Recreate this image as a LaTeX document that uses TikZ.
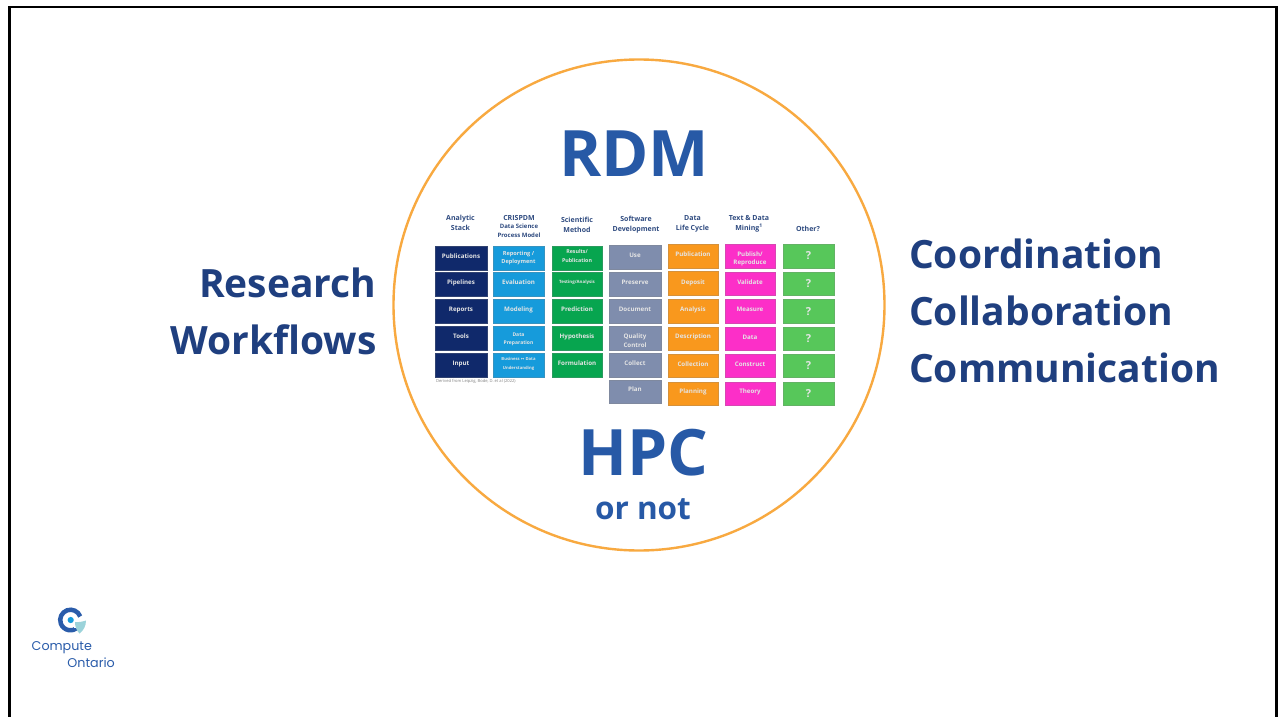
\documentclass[tikz,border=0pt]{standalone}
\usepackage{fontspec}
\setmainfont{Open Sans}
\newfontfamily\logofont{Poppins}
\definecolor{navyc}{HTML}{10296B}
\definecolor{bluec}{HTML}{169BDB}
\definecolor{greenc}{HTML}{07A54F}
\definecolor{grayc}{HTML}{7F8DAD}
\definecolor{orangec}{HTML}{F9981D}
\definecolor{magc}{HTML}{FC2FC8}
\definecolor{lgreenc}{HTML}{57C75A}
\definecolor{headc}{HTML}{2F4B80}
\definecolor{titlec}{HTML}{2759A6}
\definecolor{sidec}{HTML}{1F3F7F}
\definecolor{ringc}{HTML}{F8A940}
\definecolor{logoc}{HTML}{2A5CAA}
\definecolor{shieldc}{HTML}{9BD3DA}
\tikzset{
 x=1pt,y=-1pt,
 cell/.style={rectangle,inner sep=0pt,outer sep=0pt},
 celltext/.style={inner sep=0pt,align=center,text=white!90!black},
 head/.style={align=center,font=\bfseries\fontsize{7}{10.2}\selectfont,text=headc},
 bigt/.style={font=\bfseries\fontsize{64}{64}\selectfont,text=titlec},
 side/.style={font=\bfseries\fontsize{39}{57}\selectfont,text=sidec},
}
% name, fill, x1, y1, x2, y2, text, size, raise
\newcommand{\cellbox}[9]{%
 \node[cell,fill=#2,draw=#2!70!gray,line width=0.5pt,minimum width=#5pt-#3pt,minimum height=#6pt-#4pt-1pt,
  anchor=north west] (#1) at (#3,#4+0.5) {};
 \node[celltext,font=\bfseries\fontsize{#8}{8.5}\selectfont] (#1t) at ([yshift=#9pt]#1.center) {#7};}
\begin{document}
\begin{tikzpicture}
\useasboundingbox (0,0) rectangle (1278,717);
\fill[white] (0,0) rectangle (1278,717);
\coordinate (fa) at (9.5,717);
\coordinate (fb) at (9.5,7);
\coordinate (fc) at (1276.5,7);
\coordinate (fd) at (1276.5,717);
\draw[black,line width=2.4pt] (fa) -- (fb) -- (fc) -- (fd);
\node[circle,draw=ringc,line width=2.4pt,fill=white,minimum size=491pt,inner sep=0pt] (ring) at (639,305) {};
\node[bigt] (rdm) at (634,153.5) {RDM};
\node[bigt] (hpc) at (643.5,453) {HPC};
\node[font=\bfseries\fontsize{31.5}{31.5}\selectfont,text=titlec] (ornot) at (643,509) {or not};
\node[side,align=right,anchor=east] (rw) at (380,311) {Research\\Workflows};
\node[side,align=left,anchor=west] (ccc) at (905.5,310.5) {Coordination\\Collaboration\\Communication};
% headers
\node[head] (h1) at (460.5,222.5) {Analytic\\Stack};
\node[head,font=\bfseries\fontsize{6}{8.5}\selectfont] (h2) at (519,226) {{\fontsize{7}{9}\selectfont CRISPDM}\\Data Science\\Process Model};
\node[head] (h3) at (577,225) {Scientific\\Method};
\node[head] (h4) at (636,224.5) {Software\\Development};
\node[head] (h5) at (692.5,223.5) {Data\\Life Cycle};
\node[head] (h6) at (749,223.5) {Text \& Data\\Mining\textsuperscript{1}};
\node[head] (h7) at (808,228.5) {Other?};
% column 1
\cellbox{a1}{navyc}{435}{246}{487}{271}{Publications}{6.2}{2}
\cellbox{a2}{navyc}{435}{272}{487}{297}{Pipelines}{6.2}{1.5}
\cellbox{a3}{navyc}{435}{299}{487}{324}{Reports}{6.2}{1.5}
\cellbox{a4}{navyc}{435}{326}{487}{351}{Tools}{6.2}{2}
\cellbox{a5}{navyc}{435}{353}{487}{378}{Input}{6.2}{1.5}
% column 2
\cellbox{b1}{bluec}{493}{246}{544}{271}{Reporting /\\Deployment}{5.6}{0.5}
\cellbox{b2}{bluec}{493}{272}{544}{297}{Evaluation}{6.2}{2}
\cellbox{b3}{bluec}{493}{299}{544}{324}{Modeling}{6.2}{2}
\cellbox{b4}{bluec}{493}{326}{544}{351}{Data\\Preparation}{5}{-1}
\cellbox{b5}{bluec}{493}{353}{544}{378}{Business {\fontspec{DejaVu Sans}↔} Data\\Understanding}{4.2}{1.5}
% column 3
\cellbox{c1}{greenc}{552}{246}{602}{271}{Results/\\Publication}{5.3}{2.5}
\cellbox{c2}{greenc}{552}{272}{602}{297}{Testing/Analysis}{4.4}{2}
\cellbox{c3}{greenc}{552}{299}{602}{324}{Prediction}{6.2}{2}
\cellbox{c4}{greenc}{552}{326}{602}{351}{Hypothesis}{6.2}{2}
\cellbox{c5}{greenc}{552}{353}{602}{378}{Formulation}{6.2}{2}
% column 4
\cellbox{d1}{grayc}{609}{245}{661}{270}{Use}{6.2}{2}
\cellbox{d2}{grayc}{609}{272}{661}{297}{Preserve}{6.2}{2}
\cellbox{d3}{grayc}{609}{299}{661}{324}{Document}{6.2}{2}
\cellbox{d4}{grayc}{609}{326}{661}{351}{Quality\\Control}{6.2}{-2}
\cellbox{d5}{grayc}{609}{353}{661}{378}{Collect}{6.2}{2.5}
\cellbox{d6}{grayc}{609}{380}{661}{404}{Plan}{6.2}{2.5}
% column 5
\cellbox{e1}{orangec}{668}{244}{718}{269}{Publication}{6.2}{2}
\cellbox{e2}{orangec}{668}{271}{718}{296}{Deposit}{6.2}{1}
\cellbox{e3}{orangec}{668}{299}{718}{324}{Analysis}{6.2}{2}
\cellbox{e4}{orangec}{668}{327}{718}{351}{Description}{6.2}{2}
\cellbox{e5}{orangec}{668}{354}{718}{378}{Collection}{6.2}{1.5}
\cellbox{e6}{orangec}{668}{382}{718}{406}{Planning}{6.2}{2}
% column 6
\cellbox{f1}{magc}{725}{244}{775}{269}{Publish/\\Reproduce}{6.2}{-2.5}
\cellbox{f2}{magc}{725}{272}{775}{296}{Validate}{6.2}{2}
\cellbox{f3}{magc}{725}{299}{775}{324}{Measure}{6.2}{2}
\cellbox{f4}{magc}{725}{327}{775}{351}{Data}{6.2}{2}
\cellbox{f5}{magc}{725}{354}{775}{378}{Construct}{6.2}{1.5}
\cellbox{f6}{magc}{725}{382}{775}{406}{Theory}{6.2}{2}
% column 7
\cellbox{g1}{lgreenc}{783}{244}{834}{269}{?}{11}{1}
\cellbox{g2}{lgreenc}{783}{272}{834}{296}{?}{11}{0}
\cellbox{g3}{lgreenc}{783}{299}{834}{324}{?}{11}{0}
\cellbox{g4}{lgreenc}{783}{327}{834}{351}{?}{11}{0}
\cellbox{g5}{lgreenc}{783}{354}{834}{378}{?}{11}{0}
\cellbox{g6}{lgreenc}{783}{382}{834}{406}{?}{11}{0.5}
\node[anchor=west,inner sep=0pt,font=\fontsize{4.1}{5}\selectfont,text=gray] (src) at (436,381.5) {Derived from Leipzig, Bode, D. et al (2022)};
% logo
\draw[logoc,line width=4.5pt] (80.2,616.5) arc[start angle=-20,end angle=-310,radius=10.3];
\fill[bluec] (70.7,620) circle[radius=3.1];
\fill[white] (73.5,620.5) rectangle (87.5,628);
\fill[shieldc] (75,622) .. controls (79,622.5) and (83,621.5) .. (86,620.5) .. controls (86,626) and (83.5,630.5) .. (79.5,633.5) .. controls (76.5,630.5) and (75,626.5) .. (75,622) -- cycle;
\node[anchor=west,inner sep=0pt,font=\logofont\fontsize{12.7}{13}\selectfont,text=logoc] (l1) at (31.5,648) {Compute};
\node[anchor=east,inner sep=0pt,font=\logofont\fontsize{12.7}{13}\selectfont,text=logoc] (l2) at (115,663) {Ontario};
\end{tikzpicture}
\end{document}
